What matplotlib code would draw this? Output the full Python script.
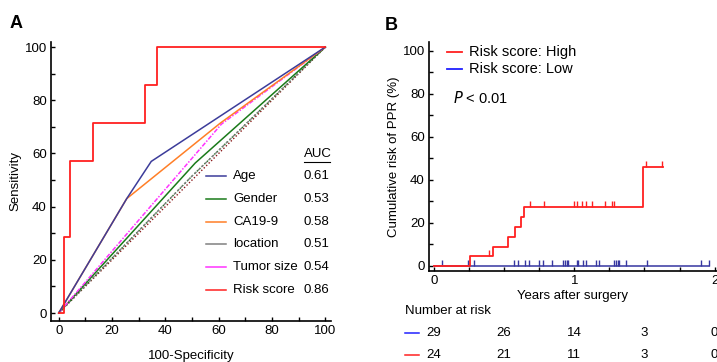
import numpy as np
import matplotlib
matplotlib.use("Agg")
import matplotlib.pyplot as plt
from matplotlib.ticker import MultipleLocator

# ----------------------------
# Data: panel A (ROC curves, %)
# ----------------------------
roc_names = ["Age", "Gender", "CA19-9", "location", "Tumor size", "Risk score"]
roc_auc = ["0.61", "0.53", "0.58", "0.51", "0.54", "0.86"]

age_x = [0, 25.5, 34.7, 100]
age_y = [0, 43, 57, 100]
gender_x = [0, 51.2, 100]
gender_y = [0, 56.4, 100]
ca199_x = [0, 25.5, 60.6, 100]
ca199_y = [0, 43, 71.4, 100]
location_x = [0, 49, 100]
location_y = [0, 50.5, 100]
tumor_x = [0, 61, 100]
tumor_y = [0, 71, 100]
risk_x = [0, 1.8, 1.8, 4.2, 4.2, 12.9, 12.9, 32.4, 32.4, 36.8, 36.8, 100]
risk_y = [0, 0, 28.6, 28.6, 57.1, 57.1, 71.4, 71.4, 85.7, 85.7, 100, 100]
diag = [0, 100]

# ----------------------------
# Data: panel B (cumulative risk, %)
# ----------------------------
high_t = [0, 0.257, 0.418, 0.525, 0.575, 0.618, 0.64, 1.49, 1.63]
high_y = [0, 4.5, 8.8, 13.5, 18.1, 22.5, 27.4, 45.8, 45.8]
high_cens_t = [0.392, 0.687, 0.786, 1.0, 1.02, 1.055, 1.083, 1.128,
               1.22, 1.27, 1.28, 1.513, 1.625]
high_cens_y = [4.5, 27.4, 27.4, 27.4, 27.4, 27.4, 27.4, 27.4,
               27.4, 27.4, 27.4, 45.8, 45.8]

low_t = [0, 1.96]
low_y = [0, 0]
low_cens_t = [0.06, 0.239, 0.284, 0.570, 0.601, 0.652, 0.678, 0.752, 0.780,
              0.842, 0.916, 0.933, 0.945, 0.957, 1.017, 1.026, 1.064, 1.081,
              1.155, 1.179, 1.284, 1.296, 1.308, 1.322, 1.372, 1.516, 1.900,
              1.959]

risk_times = [0, 0.5, 1, 1.5, 2]
risk_low = [29, 26, 14, 3, 0]
risk_high = [24, 21, 11, 3, 0]

# ----------------------------
# Style
# ----------------------------
plt.rcParams.update({
    "font.family": ["Liberation Sans", "DejaVu Sans"],
    "font.size": 9.5,
    "axes.linewidth": 1.2,
})

C = {
    "age": "#3c3c9a",
    "gender": "#1a7a1a",
    "ca199": "#ff7f27",
    "location": "#808080",
    "tumor": "#ff33ff",
    "risk": "#ff2020",
    "low": "#3636a0",
    "low_leg": "#2020ff",
}
LW = 1.1

fig = plt.figure(figsize=(7.17, 3.62), dpi=100)
axA = fig.add_axes([0.0711, 0.1133, 0.3905, 0.7707])
axB = fig.add_axes([0.5983, 0.2514, 0.4017, 0.6326])


def style_axes(ax):
    for s in ("top", "right"):
        ax.spines[s].set_visible(False)
    ax.tick_params(which="both", direction="in", length=3, width=1,
                   pad=3, labelsize=9.5)


# ----------------------------
# Panel A
# ----------------------------
ax = axA
ax.plot(diag, diag, color="#8b1a1a", lw=1.0, ls=(0, (1, 1.5)), zorder=2)
ax.plot([0, 50, 100], [0, 51.5, 100], color="#1a6a1a", lw=1.0,
        ls=(0, (1, 1.5)), zorder=2)
ax.plot(location_x, location_y, color=C["location"], lw=1.0,
        ls=(0, (2, 1.5)), zorder=2)
ax.plot(gender_x, gender_y, color=C["gender"], lw=LW, zorder=3)
ax.plot(tumor_x, tumor_y, color=C["tumor"], lw=LW, ls=(0, (3, 1, 1, 1)), zorder=3)
ax.plot(ca199_x, ca199_y, color=C["ca199"], lw=LW, zorder=4)
ax.plot(age_x, age_y, color=C["age"], lw=LW, zorder=4)
ax.plot(risk_x, risk_y, color=C["risk"], lw=1.3, zorder=5)

ax.set_xlim(-2.9, 102.1)
ax.set_ylim(-3, 101.9)
ax.xaxis.set_major_locator(MultipleLocator(20))
ax.xaxis.set_minor_locator(MultipleLocator(10))
ax.yaxis.set_major_locator(MultipleLocator(20))
ax.yaxis.set_minor_locator(MultipleLocator(10))
style_axes(ax)
ax.set_xlabel("100-Specificity", labelpad=9.5)
ax.set_ylabel("Sensitivity", labelpad=2)

# AUC table legend
leg_colors = [C["age"], C["gender"], C["ca199"], C["location"], C["tumor"], C["risk"]]
row_y = [51.5, 42.9, 34.2, 25.9, 17.3, 8.6]
for name, auc, col, yy in zip(roc_names, roc_auc, leg_colors, row_y):
    ax.plot([55.2, 62.8], [yy, yy], color=col, lw=LW, zorder=6)
    ax.text(65.4, yy, name, va="center", ha="left")
    ax.text(91.8, yy, auc, va="center", ha="left")
ax.text(91.8, 59.8, "AUC", va="center", ha="left")
ax.plot([91.8, 101.6], [56.6, 56.6], color="black", lw=0.8, clip_on=False)

fig.text(0.014, 0.935, "A", fontsize=13, fontweight="bold", va="center")

# ----------------------------
# Panel B
# ----------------------------
ax = axB
ax.step(low_t, low_y, where="post", color=C["low"], lw=1.1, zorder=3)
ax.plot(low_cens_t, np.zeros(len(low_cens_t)), ls="none", marker=2,
        ms=4, mew=1, color=C["low"], zorder=3)
ax.step(high_t, high_y, where="post", color=C["risk"], lw=1.3, zorder=4)
ax.plot(high_cens_t, high_cens_y, ls="none", marker=2, ms=4, mew=1,
        color=C["risk"], zorder=4)

ax.set_xlim(-0.0356, 2.017)
ax.set_ylim(-2.47, 104)
ax.set_xticks([0, 1, 2])
ax.xaxis.set_minor_locator(MultipleLocator(0.25))
ax.yaxis.set_major_locator(MultipleLocator(20))
ax.yaxis.set_minor_locator(MultipleLocator(10))
style_axes(ax)
ax.set_xlabel("Years after surgery", labelpad=2)
ax.set_ylabel("Cumulative risk of PPR (%)", labelpad=2)

# group key
for lab, col, yy in (("Risk score: High", C["risk"], 99.4),
                     ("Risk score: Low", C["low_leg"], 91.5)):
    ax.plot([0.093, 0.200], [yy, yy], color=col, lw=1.3)
    ax.text(0.249, yy, lab, ha="left", va="center", fontsize=10.5)
ax.text(0.135, 78, "$\\mathit{P}$ < 0.01", ha="left", va="center", fontsize=10.5)

ax.text(-0.21, -21, "Number at risk", ha="left", va="center", clip_on=False)
for row, col, yy in ((risk_low, C["low_leg"], -31.3), (risk_high, C["risk"], -41.5)):
    ax.plot([-0.21, -0.105], [yy, yy], color=col, lw=1.1, clip_on=False)
    for t, n in zip(risk_times, row):
        ax.text(t, yy, str(n), ha="center", va="center", clip_on=False)

fig.text(0.537, 0.93, "B", fontsize=13, fontweight="bold", va="center")

fig.savefig("out.png", dpi=100)
